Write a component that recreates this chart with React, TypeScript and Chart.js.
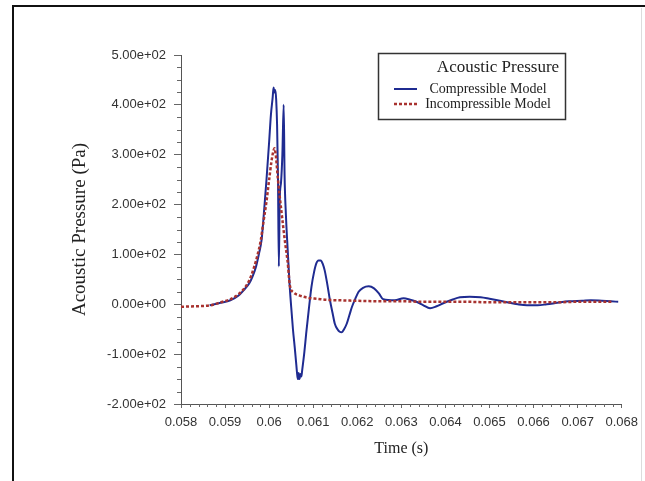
import React, { useEffect, useRef } from "react";
import { Chart, registerables } from "chart.js";

Chart.register(...registerables);

// ---------- data ----------
const legendTitle = "Acoustic Pressure";
const seriesNames = ["Compressible Model", "Incompressible Model"];
const xAxisTitle = "Time (s)";
const yAxisTitle = "Acoustic Pressure (Pa)";

const xTickValues = [0.058, 0.059, 0.06, 0.061, 0.062, 0.063, 0.064, 0.065, 0.066, 0.067, 0.068];
const yTickValues = [-200, -100, 0, 100, 200, 300, 400, 500];

const compTime = [
  0.05865, 0.0589, 0.05912, 0.0593, 0.05942, 0.05955, 0.05962, 0.0597, 0.05977, 0.05983,
  0.05989, 0.05994, 0.06, 0.06004, 0.06008, 0.0601, 0.06012, 0.06014, 0.06016, 0.06018,
  0.0602, 0.06022, 0.06024, 0.06027, 0.0603, 0.06033, 0.06035, 0.06038, 0.06042, 0.06046,
  0.0605, 0.06054, 0.06058, 0.06061, 0.06063, 0.06065, 0.06067, 0.06069, 0.06071, 0.06073,
  0.06075, 0.0608, 0.06084, 0.0609, 0.06096, 0.06102, 0.06107, 0.06112, 0.06117, 0.06122,
  0.06126, 0.06132, 0.06138, 0.06144, 0.06149, 0.06155, 0.0616, 0.06165, 0.0617, 0.06176,
  0.06182, 0.06188, 0.06195, 0.06203, 0.06213, 0.06226, 0.06238, 0.06249, 0.06259, 0.06285,
  0.06305, 0.0632, 0.06334, 0.0635, 0.06365, 0.0638, 0.06395, 0.06415, 0.06433, 0.06455,
  0.0648, 0.065, 0.06518, 0.0654, 0.06564, 0.06585, 0.06609, 0.0663, 0.06654, 0.0668,
  0.0671, 0.0673, 0.06755, 0.06775, 0.06792,
];
const compPressure = [
  -2, 3, 8, 17, 28, 42, 55, 75, 102, 130,
  193, 250, 326, 380, 415, 435, 425, 430, 410, 360,
  260, 76, 210, 245, 300, 400, 260, 180, 110, 45,
  -5, -50, -86, -115, -135, -150, -138, -150, -140, -145,
  -132, -95, -59, -10, 35, 65, 82, 88, 88, 80,
  68, 40, 8, -18, -39, -50, -55, -56, -50, -39,
  -22, -5, 10, 25, 33, 36, 32, 22, 10, 8,
  12, 9, 5, -2, -8, -4, 2, 9, 14, 15,
  14, 11, 8, 4, 0, -2, -2, 0, 3, 6,
  7, 8, 7, 6, 5,
];

const incTime = [
  0.058, 0.0583, 0.05867, 0.0589, 0.05912, 0.0593, 0.05942, 0.05955, 0.05965, 0.05974,
  0.05981, 0.05987, 0.05993, 0.06, 0.06005, 0.06009, 0.06012, 0.06015, 0.0602, 0.06028,
  0.06036, 0.06042, 0.06047, 0.06055, 0.06068, 0.06088, 0.0611, 0.0613, 0.0616, 0.062,
  0.0625, 0.063, 0.0635, 0.064, 0.0645, 0.065, 0.0655, 0.066, 0.0665, 0.067, 0.0674, 0.0678,
];
const incPressure = [
  -5, -4, -2, 4, 10, 20, 30, 48, 72, 100,
  128, 165, 200, 250, 285, 305, 313, 300, 250, 185,
  125, 85, 38, 24, 18, 13, 11, 9, 8, 7,
  6, 6, 5, 5, 5, 4, 4, 4, 4, 5, 5, 5,
];

// ---------- helpers ----------
function fmtExp(v: number): string {
  const s = Number(v).toExponential(2);
  const [m, e] = s.split("e");
  const sign = e[0];
  const digits = e.slice(1).padStart(2, "0");
  return `${m}e${sign}${digits}`;
}
function fmtTime(v: number): string {
  return Number(v).toFixed(3).replace(/0+$/, "").replace(/\.$/, "");
}

const SERIF = "'Liberation Serif', 'Times New Roman', Times, serif";
const SANS = "'Liberation Sans', Arial, Helvetica, sans-serif";
const BLUE = "#1f2b91";
const RED = "#a8322f";

const decorPlugin = {
  id: "decor",
  afterDraw(chart: any) {
    const ctx: CanvasRenderingContext2D = chart.ctx;
    const xs = chart.scales.x;
    const ys = chart.scales.y;
    ctx.save();
    // outer frame
    ctx.strokeStyle = "#111";
    ctx.lineWidth = 2;
    ctx.beginPath();
    ctx.moveTo(13, 481);
    ctx.lineTo(13, 6);
    ctx.lineTo(645, 6);
    ctx.stroke();
    ctx.strokeStyle = "#dcdcdc";
    ctx.lineWidth = 1;
    ctx.beginPath();
    ctx.moveTo(641.5, 8);
    ctx.lineTo(641.5, 481);
    ctx.stroke();

    // minor ticks
    ctx.strokeStyle = "#666";
    ctx.lineWidth = 1;
    ctx.beginPath();
    for (let i = 0; i <= 50; i++) {
      if (i % 5 === 0) continue;
      const v = xTickValues[0] + i * 0.0002;
      const px = Math.round(xs.getPixelForValue(v)) + 0.5;
      ctx.moveTo(px, xs.top);
      ctx.lineTo(px, xs.top + 3);
    }
    for (let v = yTickValues[0]; v <= yTickValues[yTickValues.length - 1]; v += 25) {
      if (v % 100 === 0) continue;
      const py = Math.round(ys.getPixelForValue(v)) + 0.5;
      ctx.moveTo(ys.right - 4, py);
      ctx.lineTo(ys.right, py);
    }
    ctx.stroke();

    // legend box
    ctx.strokeStyle = "#333";
    ctx.lineWidth = 1.5;
    ctx.strokeRect(378.5, 53.5, 187, 66);
    ctx.fillStyle = "#222";
    ctx.textBaseline = "middle";
    ctx.textAlign = "center";
    ctx.font = `17px ${SERIF}`;
    ctx.fillText(legendTitle, 498, 68);
    ctx.font = `14px ${SERIF}`;
    ctx.fillText(seriesNames[0], 488, 89);
    ctx.fillText(seriesNames[1], 488, 104);
    ctx.strokeStyle = BLUE;
    ctx.lineWidth = 2;
    ctx.beginPath();
    ctx.moveTo(394, 89);
    ctx.lineTo(417, 89);
    ctx.stroke();
    ctx.strokeStyle = RED;
    ctx.lineWidth = 2.5;
    ctx.setLineDash([3, 2]);
    ctx.beginPath();
    ctx.moveTo(394, 104);
    ctx.lineTo(417, 104);
    ctx.stroke();
    ctx.restore();
  },
};

export default function App() {
  const ref = useRef<HTMLCanvasElement | null>(null);
  useEffect(() => {
    document.body.style.margin = "0";
    const canvas = ref.current;
    if (!canvas) return;
    const chart = new Chart(canvas, {
      type: "line",
      data: {
        datasets: [
          {
            label: seriesNames[1],
            data: incTime.map((t, i) => ({ x: t, y: incPressure[i] })),
            borderColor: RED,
            borderWidth: 2.5,
            borderDash: [3, 2],
            pointRadius: 0,
            fill: false,
            cubicInterpolationMode: "monotone",
            order: 0,
          },
          {
            label: seriesNames[0],
            data: compTime.map((t, i) => ({ x: t, y: compPressure[i] })),
            borderColor: BLUE,
            borderWidth: 2,
            pointRadius: 0,
            fill: false,
            cubicInterpolationMode: "monotone",
            order: 1,
          },
        ],
      },
      options: {
        responsive: false,
        animation: false,
        layout: { padding: { left: 20, right: 20, top: 55, bottom: 10 } },
        plugins: { legend: { display: false }, tooltip: { enabled: false } },
        scales: {
          x: {
            type: "linear",
            min: xTickValues[0],
            max: xTickValues[xTickValues.length - 1],
            afterBuildTicks: (s: any) => {
              s.ticks = xTickValues.map((v) => ({ value: v }));
            },
            afterFit: (s: any) => {
              s.height = 67;
            },
            ticks: {
              callback: (v: any) => fmtTime(Number(v)),
              font: { size: 13, family: SANS },
              color: "#333",
              padding: 7,
              maxRotation: 0,
              autoSkip: false,
            },
            grid: { drawOnChartArea: false, drawTicks: true, tickLength: 4, color: "#666" },
            border: { display: true, color: "#555", width: 1 },
            title: {
              display: true,
              text: xAxisTitle,
              font: { size: 16, family: SERIF },
              color: "#222",
              padding: { top: 0, bottom: 13 },
            },
          },
          y: {
            type: "linear",
            min: yTickValues[0],
            max: yTickValues[yTickValues.length - 1],
            afterBuildTicks: (s: any) => {
              s.ticks = yTickValues.map((v) => ({ value: v }));
            },
            afterFit: (s: any) => {
              s.width = 161;
            },
            ticks: {
              callback: (v: any) => fmtExp(Number(v)),
              font: { size: 13, family: SANS },
              color: "#333",
              padding: 8,
              autoSkip: false,
            },
            grid: { drawOnChartArea: false, drawTicks: true, tickLength: 7, color: "#666" },
            border: { display: true, color: "#555", width: 1 },
            title: {
              display: true,
              text: yAxisTitle,
              font: { size: 19, family: SERIF },
              color: "#222",
              padding: { top: 49, bottom: 0 },
            },
          },
        },
      },
      plugins: [decorPlugin],
    } as any);
    return () => chart.destroy();
  }, []);
  return <canvas ref={ref} width={645} height={481} style={{ display: "block" }} />;
}
